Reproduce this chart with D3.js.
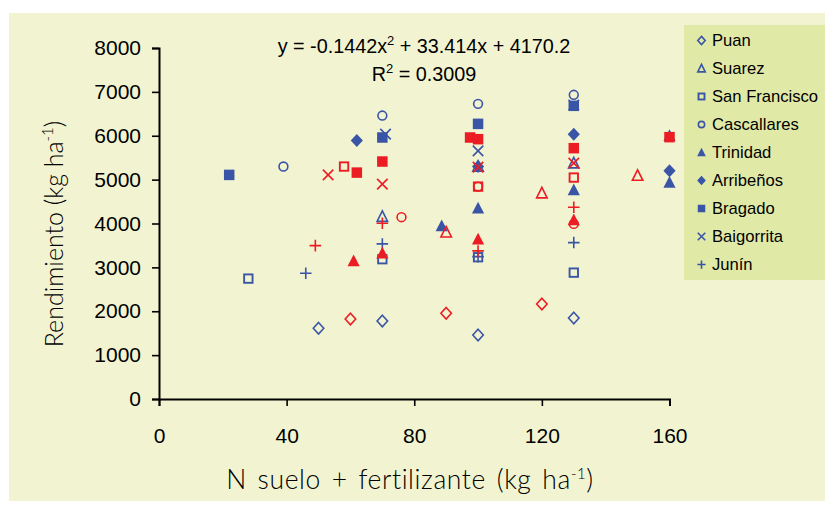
<!DOCTYPE html>
<html><head><meta charset="utf-8">
<script src="https://cdn.jsdelivr.net/npm/d3@7"></script>
<style>body{margin:0;background:#fff}svg{display:block}</style>
</head><body>
<script>
// ---- data ----
const locations = ["Puan","Suarez","San Francisco","Cascallares","Trinidad","Arribeños","Bragado","Baigorrita","Junín"];
const shapes = ["diamondOpen","triangleOpen","squareOpen","circleOpen","triangle","diamond","square","cross","plus"];
const xTicks = [0,40,80,120,160];
const yTicks = [0,1000,2000,3000,4000,5000,6000,7000,8000];
// campaign A (blue) and campaign B (red): [N, yield]
const puanA = [[50,1612],[70,1779],[100,1460],[130,1847]];
const puanB = [[60,1824],[90,1954],[120,2166]];
const suarezA = [[70,4157],[100,5300],[130,5375]];
const suarezB = [[90,3801],[120,4691],[150,5092]];
const sanFranciscoA = [[28,2744],[70,3186],[100,3231],[130,2880]];
const sanFranciscoB = [[58,5298],[100,4841],[130,5047]];
const cascallaresA = [[39,5298],[70,6460],[100,6727],[130,6933]];
const cascallaresB = [[76,4144],[100,4841],[130,3991]];
const trinidadA = [[160,6000],[88.6,3945],[100,4349],[130,4766],[160,4933]];
const trinidadB = [[61,3147],[70,3322],[100,3642],[130,4082]];
const arribenosA = [[62,5890],[100,5300],[130,6036],[160,5200]];
const arribenosB = [];
const bragadoA = [[22,5108],[70,5960],[100,6271],[130,6682]];
const bragadoB = [[62,5160],[70,5412],[97.5,5960],[100,5922],[130,5717],[160,5968]];
const baigorritaA = [[71,6036],[100,5656],[130,6700]];
const baigorritaB = [[53,5108],[70,4896],[100,5284],[130,5375]];
const juninA = [[46,2866],[70,3535],[100,3245],[130,3565]];
const juninB = [[49,3496],[70,4007],[100,3375],[130,4372]];
const seriesA = [puanA,suarezA,sanFranciscoA,cascallaresA,trinidadA,arribenosA,bragadoA,baigorritaA,juninA];
const seriesB = [puanB,suarezB,sanFranciscoB,cascallaresB,trinidadB,arribenosB,bragadoB,baigorritaB,juninB];
const equation = "y = -0.1442x";
const rText = "R";

const BLUE = "#3a55a6", RED = "#ec1c24";
const W = 825, H = 508;
const svg = d3.select("body").append("svg").attr("width",W).attr("height",H);
svg.append("rect").attr("x",9).attr("y",13).attr("width",816).attr("height",488).attr("fill","#f2f4d1");

const x = d3.scaleLinear().domain([0,160]).range([159,669.5]);
const y = d3.scaleLinear().domain([0,8000]).range([399,48]);

// legend background
svg.append("rect").attr("x",684).attr("y",25).attr("width",141).attr("height",255).attr("fill","#e1e9a7");

function drawMarker(g, shape, color, s) {
  const sw = 1.6;
  switch (shape) {
    case "diamondOpen":
      g.append("path").attr("d",`M0,${-s*0.55}L${s*0.5},0L0,${s*0.55}L${-s*0.5},0Z`).attr("fill","none").attr("stroke",color).attr("stroke-width",sw); break;
    case "diamond":
      g.append("path").attr("d",`M0,${-s*0.62}L${s*0.58},0L0,${s*0.62}L${-s*0.58},0Z`).attr("fill",color); break;
    case "triangleOpen":
      g.append("path").attr("d",`M0,${-s*0.55}L${s*0.5},${s*0.45}L${-s*0.5},${s*0.45}Z`).attr("fill","none").attr("stroke",color).attr("stroke-width",sw); break;
    case "triangle":
      g.append("path").attr("d",`M0,${-s*0.62}L${s*0.58},${s*0.5}L${-s*0.58},${s*0.5}Z`).attr("fill",color); break;
    case "squareOpen":
      g.append("rect").attr("x",-s*0.4).attr("y",-s*0.4).attr("width",s*0.8).attr("height",s*0.8).attr("fill","none").attr("stroke",color).attr("stroke-width",sw+0.3); break;
    case "square":
      g.append("rect").attr("x",-s*0.5).attr("y",-s*0.5).attr("width",s).attr("height",s).attr("fill",color); break;
    case "circleOpen":
      g.append("circle").attr("r",s*0.42).attr("fill","none").attr("stroke",color).attr("stroke-width",sw); break;
    case "cross":
      g.append("path").attr("d",`M${-s*0.5},${-s*0.5}L${s*0.5},${s*0.5}M${-s*0.5},${s*0.5}L${s*0.5},${-s*0.5}`).attr("stroke",color).attr("stroke-width",sw); break;
    case "plus":
      g.append("path").attr("d",`M${-s*0.55},0L${s*0.55},0M0,${-s*0.55}L0,${s*0.55}`).attr("stroke",color).attr("stroke-width",sw); break;
  }
}

// axes
const font = "'Liberation Sans', Arial, sans-serif";
const yAxis = svg.append("g").attr("transform","translate(159,0)")
  .call(d3.axisLeft(y).tickValues(yTicks).tickSize(7).tickPadding(11).tickFormat(d3.format("d")));
const xAxis = svg.append("g").attr("transform","translate(0,399)")
  .call(d3.axisBottom(x).tickValues(xTicks).tickSize(7).tickPadding(22).tickFormat(d3.format("d")));
[yAxis,xAxis].forEach(a=>{
  a.select(".domain").attr("stroke","#000").attr("stroke-width",2);
  a.selectAll(".tick line").attr("stroke","#000").attr("stroke-width",1.6);
  a.selectAll(".tick text").attr("fill","#000").style("font-family",font).style("font-size","21px");
});

// points: blue first, red on top
const pts = svg.append("g");
[[seriesA,BLUE],[seriesB,RED]].forEach(([sets,color])=>{
  sets.forEach((arr,i)=>{
    arr.forEach(d=>{
      const g = pts.append("g").attr("transform",`translate(${x(d[0])},${y(d[1])})`);
      drawMarker(g, shapes[i], color, 10.5);
    });
  });
});

// equation
const eq = svg.append("text").attr("x",424).attr("y",53).attr("text-anchor","middle")
  .style("font-family",font).style("font-size","19.8px").attr("fill","#000");
eq.append("tspan").text(equation);
eq.append("tspan").attr("dy",-8).style("font-size","13px").text("2");
eq.append("tspan").attr("dy",8).text(" + 33.414x + 4170.2");
const r2 = svg.append("text").attr("x",424).attr("y",81).attr("text-anchor","middle")
  .style("font-family",font).style("font-size","19.8px").attr("fill","#000");
r2.append("tspan").text(rText);
r2.append("tspan").attr("dy",-8).style("font-size","13px").text("2");
r2.append("tspan").attr("dy",8).text(" = 0.3009");

// legend
locations.forEach((name,i)=>{
  const ly = 40.5 + i*28;
  const g = svg.append("g").attr("transform",`translate(701.5,${ly})`);
  drawMarker(g, shapes[i], BLUE, 7.5);
  svg.append("text").attr("x",712).attr("y",ly+5.5).text(name)
    .style("font-family",font).style("font-size","16.6px").attr("fill","#000");
});

// axis titles
const tfont = "Lato, 'Open Sans', sans-serif";
const yt = svg.append("text").attr("transform","translate(63,234) rotate(-90)").attr("text-anchor","middle")
  .style("font-family",tfont).style("font-size","25px").style("font-weight","300").attr("fill","#000");
yt.append("tspan").text("Rendimiento (kg ha");
yt.append("tspan").attr("dy",-10).style("font-size","15px").text("-1");
yt.append("tspan").attr("dy",10).text(")");
const xt = svg.append("text").attr("x",410).attr("y",489).attr("text-anchor","middle")
  .style("font-family",tfont).style("font-size","26.5px").style("font-weight","300")
  .style("letter-spacing","0.6px").style("word-spacing","3px").attr("fill","#000");
xt.append("tspan").text("N suelo + fertilizante (kg ha");
xt.append("tspan").attr("dy",-10).style("font-size","15px").text("-1");
xt.append("tspan").attr("dy",10).text(")");
</script>
</body></html>
